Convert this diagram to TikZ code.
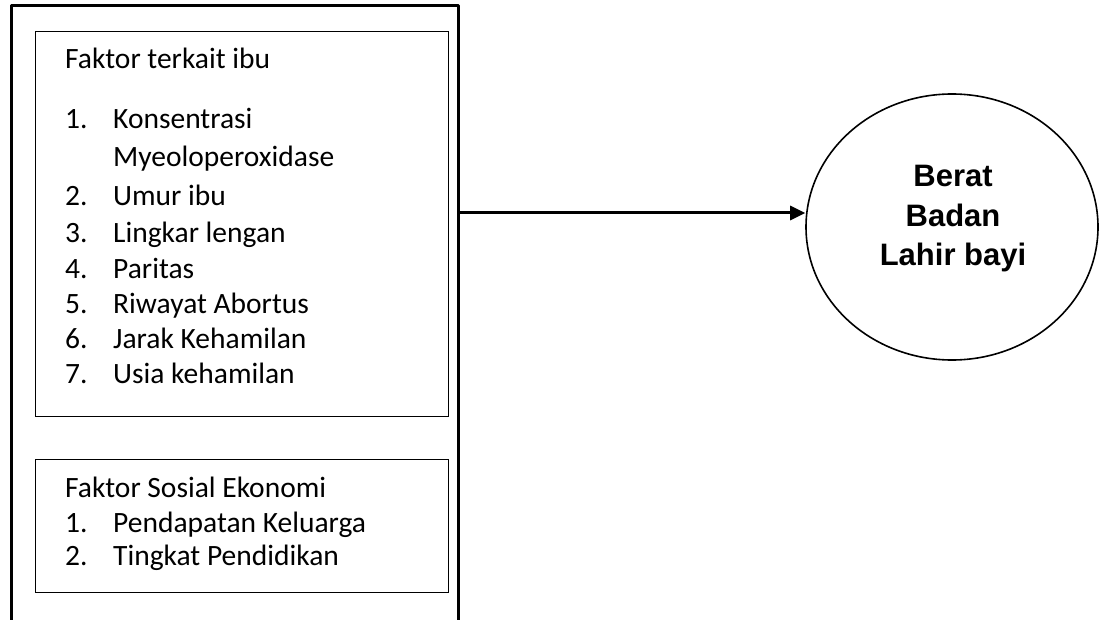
\documentclass[tikz,border=0pt]{standalone}
\usepackage{fontspec}
\setmainfont{Carlito}
\newfontfamily\arialfont{Liberation Sans}
\usetikzlibrary{arrows.meta,shapes.geometric}
\begin{document}
\begin{tikzpicture}[x=1pt,y=-1pt,
  txt/.style={font=\fontsize{29.5}{35}\selectfont, anchor=base west, inner sep=0pt},
  factorbox/.style={draw, line width=1.1pt, inner sep=0pt, anchor=north west},
  outerline/.style={line width=3pt, line join=round},
  target/.style={draw, ellipse, line width=1.6pt, inner sep=0pt, minimum width=292pt, minimum height=266pt},
  targettext/.style={font=\arialfont\bfseries\fontsize{31}{39}\selectfont, anchor=base, inner sep=0pt},
  link/.style={line width=3pt, -{Triangle[length=15pt,width=14pt]}}]
\useasboundingbox (0,0) rectangle (1099,620);

% outer open frame
\draw[outerline] (11,620) -- (11,6) -- (458,6) -- (458,620);
\coordinate (src) at (459.5,213);

% box 1
\node[factorbox, minimum width=413pt, minimum height=385pt] (box1) at (35,31) {};
\node[txt] (t0) at (65,69) {Faktor terkait ibu};
\node[txt] (n1) at (65,129) {1.};
\node[txt] (i1) at (113,129) {Konsentrasi};
\node[txt] (i1b) at (113,167) {Myeoloperoxidase};
\node[txt] (n2) at (65,206) {2.};
\node[txt] (i2) at (113,206) {Umur ibu};
\node[txt] (n3) at (65,243) {3.};
\node[txt] (i3) at (113,243) {Lingkar lengan};
\node[txt] (n4) at (65,278) {4.};
\node[txt] (i4) at (113,278) {Paritas};
\node[txt] (n5) at (65,313) {5.};
\node[txt] (i5) at (113,313) {Riwayat Abortus};
\node[txt] (n6) at (65,348) {6.};
\node[txt] (i6) at (113,348) {Jarak Kehamilan};
\node[txt] (n7) at (65,383) {7.};
\node[txt] (i7) at (113,383) {Usia kehamilan};

% box 2
\node[factorbox, minimum width=413pt, minimum height=133pt] (box2) at (35,459) {};
\node[txt] (s0) at (65,497) {Faktor Sosial Ekonomi};
\node[txt] (m1) at (65,532) {1.};
\node[txt] (j1) at (113,532) {Pendapatan Keluarga};
\node[txt] (m2) at (65,565) {2.};
\node[txt] (j2) at (113,565) {Tingkat Pendidikan};

% target ellipse
\node[target] (bbl) at (952,227) {};
\node[targettext] (b1) at (953,187) {Berat};
\node[targettext] (b2) at (953,227) {Badan};
\node[targettext] (b3) at (953,265) {Lahir bayi};

\draw[link] (src) -- (bbl.west |- src);
\end{tikzpicture}
\end{document}
